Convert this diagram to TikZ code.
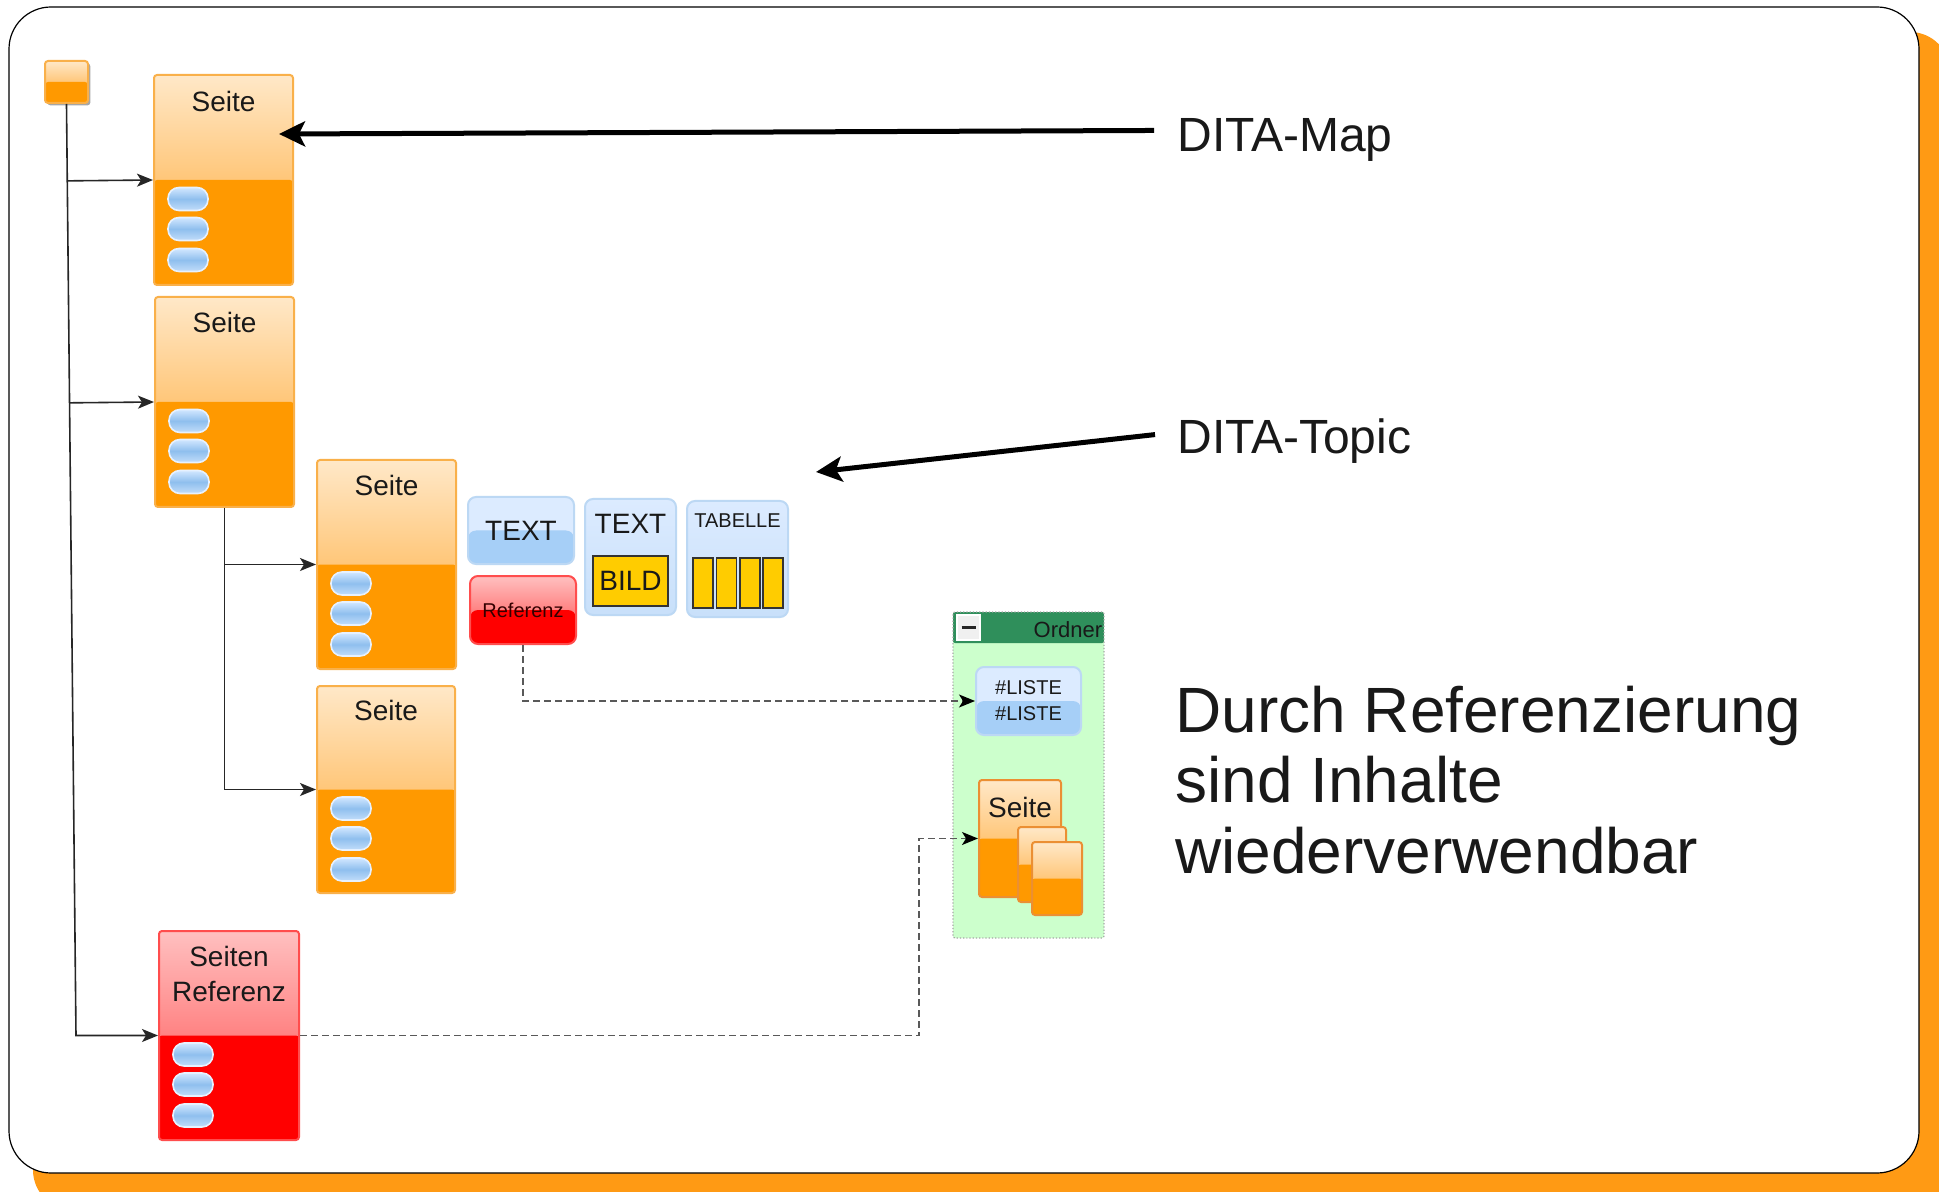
\documentclass[tikz,border=0pt]{standalone}
\usepackage{fontspec}
\setmainfont{Liberation Sans}
\usetikzlibrary{arrows.meta,calc,shadows}
\definecolor{pgorange}{HTML}{FF9900}
\definecolor{pglight}{HTML}{FFE8C8}
\definecolor{pgmid}{HTML}{FFA52A}
\definecolor{pgborder}{HTML}{F9B04A}
\definecolor{rdlight}{HTML}{FFC0C0}
\definecolor{rdmid}{HTML}{FF4545}
\definecolor{rdborder}{HTML}{FF4D4D}
\definecolor{bllight}{HTML}{DCEBFF}
\definecolor{blmid}{HTML}{A6CFF7}
\definecolor{blpale}{HTML}{C8E0FA}
\definecolor{blborder}{HTML}{BCD8F4}
\definecolor{yel}{HTML}{FFCC00}
\definecolor{fgreen}{HTML}{CCFFCC}
\definecolor{fdark}{HTML}{2F8F5B}
\definecolor{shorange}{HTML}{FF9A14}
\definecolor{pilltop}{HTML}{D2E7FF}
\definecolor{pillmid}{HTML}{8FBFEE}
\definecolor{pillbot}{HTML}{C2DDFA}
\definecolor{pillborder}{HTML}{E6F1FF}
\newcommand\myfs[2]{\fontsize{#1}{#2}\selectfont}
\tikzset{
  pagebox/.style={draw=pgborder, line width=1pt, rounded corners=1.5pt, inner sep=0pt,
    top color=pglight, bottom color=pgmid,
    path picture={\fill[pgorange] (path picture bounding box.west) rectangle (path picture bounding box.south east);}},
  redbox/.style={draw=rdborder, line width=1pt, rounded corners=1.5pt, inner sep=0pt,
    top color=rdlight, bottom color=rdmid,
    path picture={\fill[red] (path picture bounding box.west) rectangle (path picture bounding box.south east);}},
  bluebox/.style={draw=blborder, line width=1pt, rounded corners=4pt, inner sep=0pt, fill=bllight,
    path picture={\fill[blmid] (path picture bounding box.west) rectangle (path picture bounding box.south east);}},
  paleblue/.style={draw=blborder, line width=1pt, rounded corners=4pt, inner sep=0pt,
    top color=bllight, bottom color=blpale},
  pill/.style={draw=pillborder, line width=0.8pt, rounded corners=5.5pt,
    top color=pilltop, bottom color=pillbot, middle color=pillmid},
  txt/.style={inner sep=0pt, text=black!90},
  boxlbl/.style={txt, font=\myfs{14}{17.5}},
  bigtxt/.style={txt, font=\myfs{24}{27}},
  hugetxt/.style={txt, font=\myfs{32}{35.5}},
  yelbox/.style={fill=yel, draw=black!80, line width=0.8pt, inner sep=0pt},
  conn/.style={draw=black!85, line width=0.8pt, -{Stealth[length=8pt,width=6.5pt,inset=2pt]}},
  dconn/.style={draw=black!65, line width=0.8pt, dash pattern=on 3.5pt off 2pt,
    -{Stealth[length=8pt,width=6.5pt,inset=2pt,black]}},
  bigarrow/.style={draw=black, line width=2.5pt, -{Stealth[length=13pt,width=12.5pt,inset=3pt]}},
  folder/.style={draw=gray!70, densely dotted, line width=0.6pt, fill=fgreen, rounded corners=1pt, inner sep=0pt,
    path picture={\fill[fdark] (path picture bounding box.north west) rectangle ([yshift=-15.5pt]path picture bounding box.north east);}},
  minusbox/.style={fill=gray!12, draw=white, line width=0.6pt, inner sep=0pt,
    path picture={\draw[line width=1.3pt, black!85] ([xshift=-3.5pt]path picture bounding box.center) -- ([xshift=3.5pt]path picture bounding box.center);}}
}
\newcommand\threepills[1]{\foreach \pdy in {19,49,80}{\draw[pill] ([shift={(15,\pdy-11.5)}]#1.west) rectangle ++(40,23);}}
\begin{document}
\begin{tikzpicture}[x=0.5pt,y=-0.5pt]
\useasboundingbox (0,0) rectangle (1939,1192);
\clip (0,0) rectangle (1939,1192);
% background
\fill[shorange, rounded corners=20pt] (33,32) rectangle (1950,1210);
\draw[fill=white, line width=0.6pt, rounded corners=21pt] (9,7) rectangle (1919,1173);

% map icon
\node[pagebox, drop shadow={shadow xshift=1.2pt, shadow yshift=-1.2pt, opacity=0.35, fill=black},
  minimum width=21.5pt, minimum height=21pt] (icon) at (66.5,82) {};

% pages
\node[pagebox, minimum width=69.5pt, minimum height=105pt] (s1) at (223.5,180) {};
\threepills{s1}
\node[boxlbl] (s1l) at ([yshift=-13.5pt]s1.north) {Seite};

\node[pagebox, minimum width=69.5pt, minimum height=105pt] (s2) at (224.5,402) {};
\threepills{s2}
\node[boxlbl] (s2l) at ([yshift=-13pt]s2.north) {Seite};

\node[pagebox, minimum width=69.5pt, minimum height=104.5pt] (s3) at (386.5,564.5) {};
\threepills{s3}
\node[boxlbl] (s3l) at ([yshift=-13pt]s3.north) {Seite};

\node[pagebox, minimum width=69pt, minimum height=103.5pt] (s4) at (386,789.5) {};
\threepills{s4}
\node[boxlbl] (s4l) at ([yshift=-12.5pt]s4.north) {Seite};

\node[redbox, minimum width=70pt, minimum height=104.5pt] (sr) at (229,1035.5) {};
\threepills{sr}
\node[boxlbl, align=center] (srl) at ([yshift=-22pt]sr.north) {Seiten\\Referenz};

% topic elements
\node[bluebox, minimum width=53pt, minimum height=33.5pt, boxlbl] (t1) at (521,530.5) {TEXT};
\node[redbox, rounded corners=4pt, minimum width=53pt, minimum height=34pt, font=\myfs{10}{12}, text=black!80!red] (ref) at (523,610) {Referenz};

\node[paleblue, minimum width=45.5pt, minimum height=58pt] (tb) at (630.5,557) {};
\node[boxlbl] (tbl) at ([yshift=-13pt]tb.north) {TEXT};
\node[yelbox, minimum width=37.5pt, minimum height=25pt, font=\myfs{14}{17}, text=black!90] (bild) at (630.5,581) {BILD};

\node[paleblue, minimum width=50.5pt, minimum height=58pt] (tab) at (737.5,559) {};
\node[txt, font=\myfs{10}{12}] (tabl) at ([yshift=-10.5pt]tab.north) {TABELLE};
\foreach \i in {0,1,2,3}{\node[yelbox, minimum width=10pt, minimum height=25pt] (col\i) at ({703+23.4*\i},583) {};}

% folder
\node[folder, minimum width=75.5pt, minimum height=163pt] (fold) at (1028.5,775) {};
\node[minusbox, minimum width=11.5pt, minimum height=12.5pt] (mb) at (968.5,627.5) {};
\node[txt, anchor=east, font=\myfs{11}{13}] (ordl) at ([xshift=-1pt,yshift=-9pt]fold.north east) {Ordner};
\node[bluebox, minimum width=52.5pt, minimum height=34pt, align=center, font=\myfs{10}{13}, text=black!90] (li) at (1028.5,701) {\#LISTE\\\#LISTE};
\node[pagebox, draw=orange!90!black!80, minimum width=41pt, minimum height=58.5pt] (fp1) at (1020,838.5) {};
\node[boxlbl] (fp1l) at ([yshift=-14pt]fp1.north) {Seite};
\node[pagebox, draw=orange!90!black!80, minimum width=24pt, minimum height=37.5pt] (fp2) at (1042,864.5) {};
\node[pagebox, draw=orange!90!black!80, minimum width=25pt, minimum height=36.5pt] (fp3) at (1057,878.5) {};

% texts on the right
\node[bigtxt, anchor=base west] (dm) at (1177,152) {DITA-Map};
\node[bigtxt, anchor=base west] (dt) at (1177,454) {DITA-Topic};
\node[hugetxt, anchor=base west] (dr1) at (1175,732) {Durch Referenzierung};
\node[hugetxt, anchor=base west] (dr2) at (1175,802) {sind Inhalte};
\node[hugetxt, anchor=base west] (dr3) at (1175,873) {wiederverwendbar};

% connectors
\coordinate (c1) at (76,1035.5);
\coordinate (b1) at ($(icon.south)!(s1.west)!(c1)$);
\coordinate (b2) at ($(icon.south)!(s2.west)!(c1)$);
\draw[conn] (icon.south) -- (c1) -- (sr.west);
\draw[conn] (b1) -- (s1.west);
\draw[conn] (b2) -- (s2.west);
\draw[conn] (s2.south) |- (s4.west);
\draw[conn] (s2.south |- s3.west) -- (s3.west);

\draw[dconn] (ref.south) |- (li.west);
\coordinate (c2) at (919,1035.5);
\draw[dconn] (sr.east) -| (c2) |- (fp1.west);

\draw[bigarrow] ([shift={(-23,-10)}]dm.west) -- ([shift={(-15,-46)}]s1.east);
\draw[bigarrow] ([shift={(-22,-7)}]dt.west) -- ([shift={(27,-28)}]tab.north east);
\end{tikzpicture}
\end{document}
